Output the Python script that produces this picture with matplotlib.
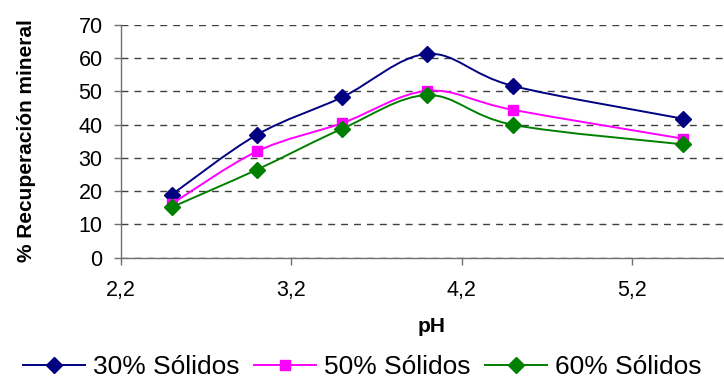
import numpy as np
import matplotlib
matplotlib.use("Agg")
import matplotlib.pyplot as plt
from matplotlib.path import Path
from matplotlib.patches import PathPatch
from matplotlib.lines import Line2D

plt.rcParams['font.family'] = ['Liberation Sans', 'DejaVu Sans']

ph = [2.5, 3.0, 3.5, 4.0, 4.5, 5.5]
solidos_30 = [19.0, 37.0, 48.3, 61.3, 51.7, 41.8]
solidos_50 = [16.2, 32.0, 40.5, 50.2, 44.5, 35.8]
solidos_60 = [15.2, 26.5, 38.8, 48.9, 40.0, 34.1]

series = [
    ('30% Sólidos', solidos_30, '#000080', 'D', 8),
    ('50% Sólidos', solidos_50, '#FF00FF', 's', 7.5),
    ('60% Sólidos', solidos_60, '#008000', 'D', 8),
]

x_ticks = [2.2, 3.2, 4.2, 5.2]
x_ticklabels = ['2,2', '3,2', '4,2', '5,2']
y_ticks = [0, 10, 20, 30, 40, 50, 60, 70]


def smooth_path(x, y):
    # bezier curve through every point (like a spreadsheet "smoothed line")
    pts = np.column_stack([x, y]).astype(float)
    n = len(pts)
    verts = [pts[0]]
    codes = [Path.MOVETO]
    for i in range(n - 1):
        p0 = pts[i - 1] if i > 0 else pts[i]
        p1 = pts[i]
        p2 = pts[i + 1]
        p3 = pts[i + 2] if i + 2 < n else pts[i + 1]
        verts += [p1 + (p2 - p0) / 6, p2 - (p3 - p1) / 6, p2]
        codes += [Path.CURVE4] * 3
    return Path(verts, codes)


W, H = 724, 390
fig = plt.figure(figsize=(W / 100, H / 100), dpi=100)
ax = fig.add_axes([120.7 / W, 1 - 257.7 / H, 1 - 120.7 / W, (257.7 - 25) / H])

ax.set_xlim(2.2, 5.74)
ax.set_ylim(0, 70)

ax.yaxis.grid(True, linestyle=(0, (5, 4.3)), color='#404040', linewidth=1)
ax.set_axisbelow(True)

handles = []
for name, vals, col, mk, ms in series:
    ax.add_patch(PathPatch(smooth_path(ph, vals), facecolor='none',
                           edgecolor=col, linewidth=1.4, zorder=3))
    ax.plot(ph, vals, linestyle='none', marker=mk, markersize=ms,
            color=col, zorder=4)
    handles.append(Line2D([], [], color=col, linewidth=1.4, marker=mk,
                          markersize=ms, label=name))

for s in ['top', 'right']:
    ax.spines[s].set_visible(False)
for s in ['left', 'bottom']:
    ax.spines[s].set_color('#707070')
    ax.spines[s].set_linewidth(1)

ax.set_xticks(x_ticks)
ax.set_xticklabels(x_ticklabels)
ax.set_yticks(y_ticks)
ax.tick_params(axis='both', length=5, width=1, color='#707070', labelsize=15.5)
ax.tick_params(axis='y', pad=8)
ax.tick_params(axis='x', pad=11)

fig.text(27 / W, 1 - 141 / H, '% Recuperación mineral', rotation=90,
         fontsize=15, fontweight='bold', ha='center', va='center')
fig.text(432 / W, 1 - 326 / H, 'pH', fontsize=15, fontweight='bold',
         ha='center', va='center')

fig.legend(handles=handles, loc='center', bbox_to_anchor=(0.5, 1 - 367 / H),
           ncol=3, frameon=False, fontsize=19, handlelength=2.35,
           handletextpad=0.3, columnspacing=0.55, borderpad=0,
           borderaxespad=0)

fig.savefig('out.png', dpi=100)
